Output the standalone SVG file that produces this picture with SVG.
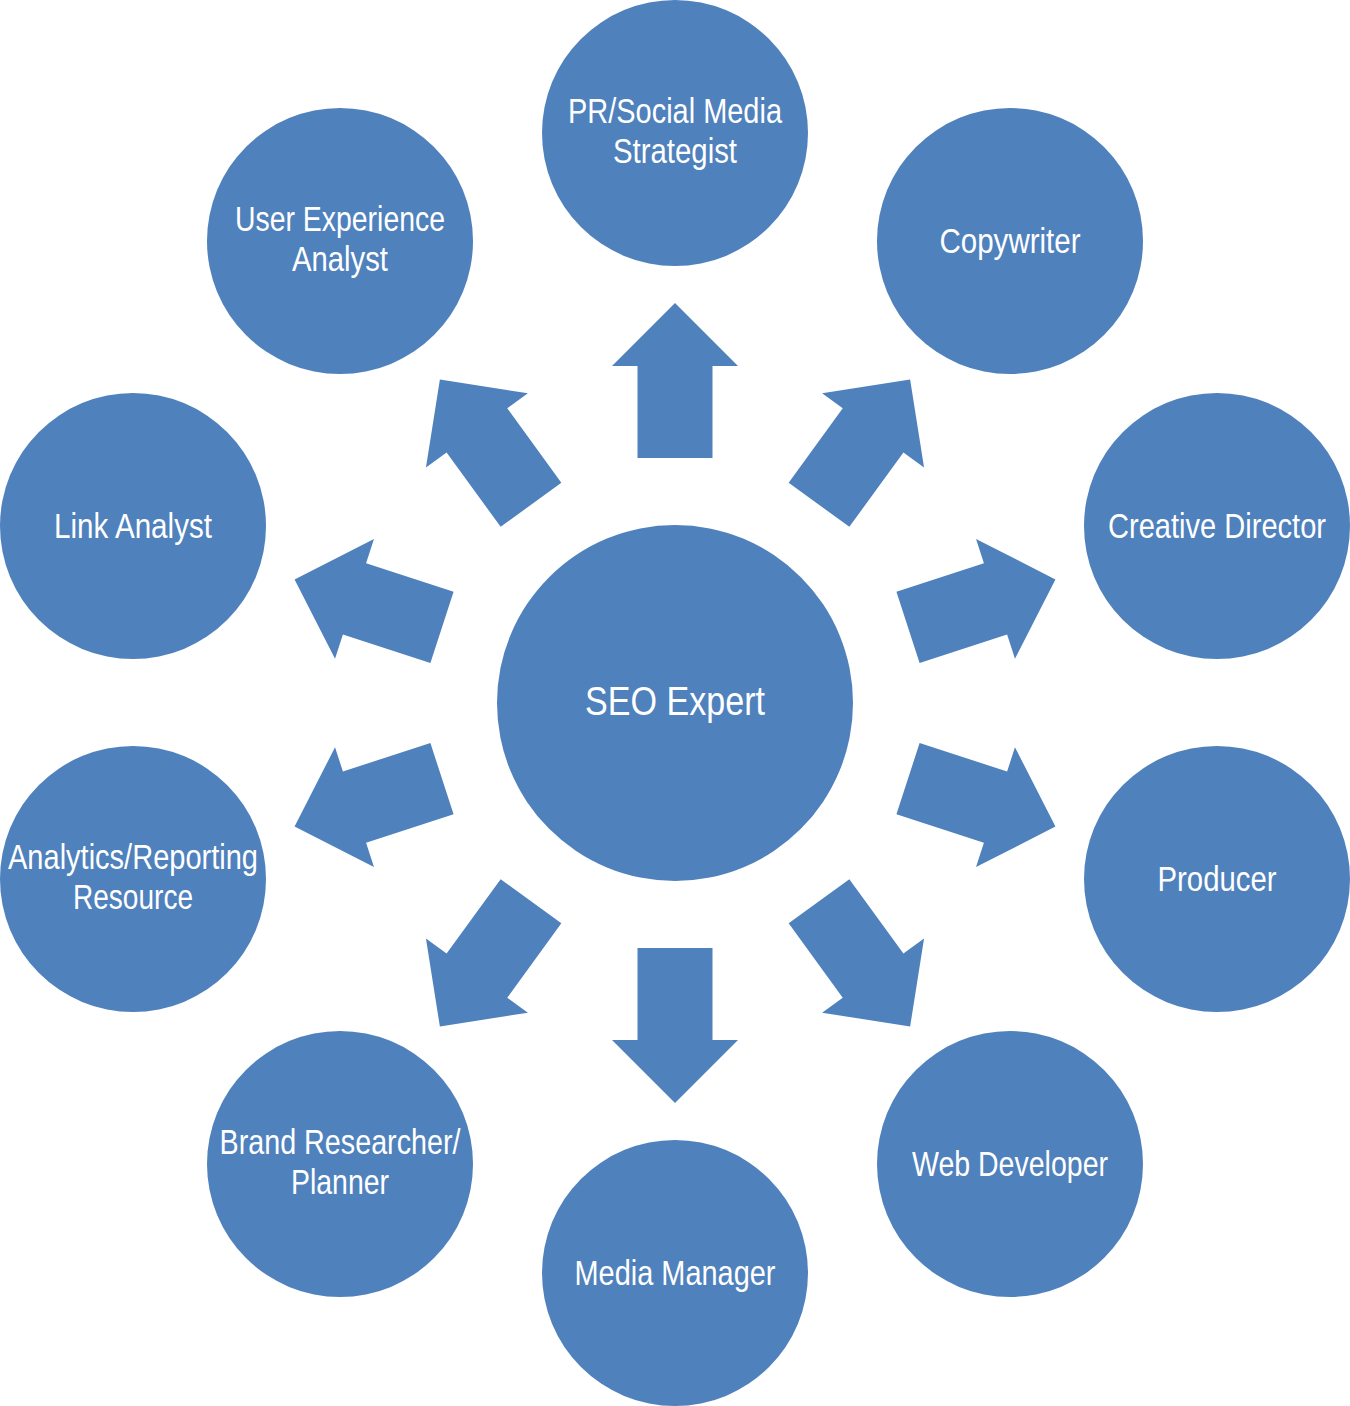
<svg xmlns="http://www.w3.org/2000/svg" width="1350" height="1406" viewBox="0 0 1350 1406">
<style>
.n{fill:#4f81bd}
.t{fill:#ffffff;font-family:"Liberation Sans",Arial,sans-serif;font-size:35px;text-anchor:middle}
.c{font-size:41px}
</style>
<defs>
<path id="arr" class="n" d="M-37.5,-245 L37.5,-245 L37.5,-337 L63,-337 L0,-400 L-63,-337 L-37.5,-337 Z"/>
</defs>
<rect width="1350" height="1406" fill="#ffffff"/>
<g id="connectors" transform="translate(675,703)">
<use href="#arr"/>
<use href="#arr" transform="rotate(36)"/>
<use href="#arr" transform="rotate(72)"/>
<use href="#arr" transform="rotate(108)"/>
<use href="#arr" transform="rotate(144)"/>
<use href="#arr" transform="rotate(180)"/>
<use href="#arr" transform="rotate(216)"/>
<use href="#arr" transform="rotate(252)"/>
<use href="#arr" transform="rotate(288)"/>
<use href="#arr" transform="rotate(324)"/>
</g>
<g id="seo"><circle class="n" cx="675" cy="703" r="178"/><text class="t c" x="675" y="715" textLength="180" lengthAdjust="spacingAndGlyphs">SEO Expert</text></g>
<g id="pr"><circle class="n" cx="675" cy="133" r="133"/><text class="t" x="675" y="123" textLength="214" lengthAdjust="spacingAndGlyphs">PR/Social Media</text><text class="t" x="675" y="163" textLength="124" lengthAdjust="spacingAndGlyphs">Strategist</text></g>
<g id="copywriter"><circle class="n" cx="1010" cy="241" r="133"/><text class="t" x="1010" y="253" textLength="141" lengthAdjust="spacingAndGlyphs">Copywriter</text></g>
<g id="creative"><circle class="n" cx="1217" cy="526" r="133"/><text class="t" x="1217" y="538" textLength="218" lengthAdjust="spacingAndGlyphs">Creative Director</text></g>
<g id="producer"><circle class="n" cx="1217" cy="879" r="133"/><text class="t" x="1217" y="891" textLength="119" lengthAdjust="spacingAndGlyphs">Producer</text></g>
<g id="webdev"><circle class="n" cx="1010" cy="1164" r="133"/><text class="t" x="1010" y="1176" textLength="196" lengthAdjust="spacingAndGlyphs">Web Developer</text></g>
<g id="media"><circle class="n" cx="675" cy="1273" r="133"/><text class="t" x="675" y="1285" textLength="201" lengthAdjust="spacingAndGlyphs">Media Manager</text></g>
<g id="brand"><circle class="n" cx="340" cy="1164" r="133"/><text class="t" x="340" y="1154" textLength="241" lengthAdjust="spacingAndGlyphs">Brand Researcher/</text><text class="t" x="340" y="1194" textLength="98" lengthAdjust="spacingAndGlyphs">Planner</text></g>
<g id="analytics"><circle class="n" cx="133" cy="879" r="133"/><text class="t" x="133" y="869" textLength="250" lengthAdjust="spacingAndGlyphs">Analytics/Reporting</text><text class="t" x="133" y="909" textLength="120" lengthAdjust="spacingAndGlyphs">Resource</text></g>
<g id="link"><circle class="n" cx="133" cy="526" r="133"/><text class="t" x="133" y="538" textLength="158" lengthAdjust="spacingAndGlyphs">Link Analyst</text></g>
<g id="ux"><circle class="n" cx="340" cy="241" r="133"/><text class="t" x="340" y="231" textLength="210" lengthAdjust="spacingAndGlyphs">User Experience</text><text class="t" x="340" y="271" textLength="96" lengthAdjust="spacingAndGlyphs">Analyst</text></g>
</svg>
